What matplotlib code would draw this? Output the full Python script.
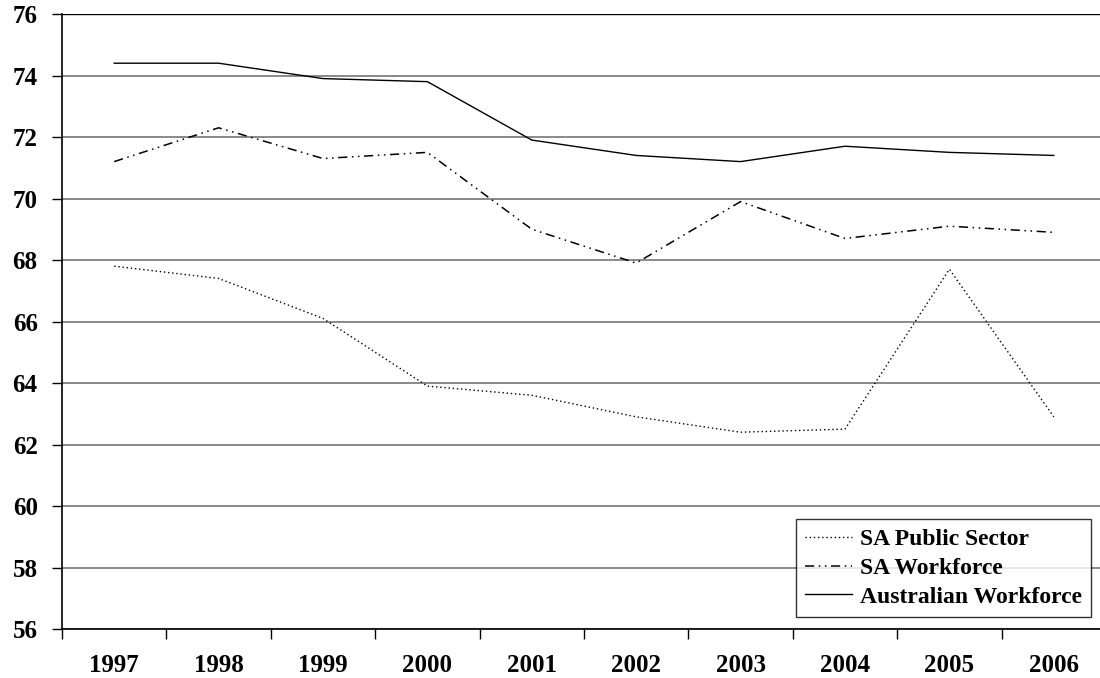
import matplotlib
matplotlib.use("Agg")
import matplotlib.pyplot as plt
import numpy as np

years = ["1997", "1998", "1999", "2000", "2001", "2002", "2003", "2004", "2005", "2006"]
sa_public = [67.8, 67.4, 66.1, 63.9, 63.6, 62.9, 62.4, 62.5, 67.7, 62.9]
sa_workforce = [71.2, 72.3, 71.3, 71.5, 69.0, 67.9, 69.9, 68.7, 69.1, 68.9]
aus_workforce = [74.4, 74.4, 73.9, 73.8, 71.9, 71.4, 71.2, 71.7, 71.5, 71.4]
y_ticks = list(range(56, 78, 2))

plt.rcParams["font.family"] = ["Liberation Serif", "DejaVu Serif"]
plt.rcParams["font.weight"] = "bold"

fig = plt.figure(figsize=(11, 6.78), dpi=100)
ax = fig.add_axes([62 / 1100, 49 / 678, 1044 / 1100, 615 / 678])

x = np.arange(len(years))
ax.plot(x, sa_public, color="black", lw=1, linestyle=(0, (1, 2)), label="SA Public Sector")
ax.plot(x, sa_workforce, color="black", lw=1.1, linestyle=(0, (6, 3, 1, 3, 1, 3)), label="SA Workforce")
ax.plot(x, aus_workforce, color="black", lw=1, linestyle="-", label="Australian Workforce")

ax.set_xlim(-0.5, len(years) - 0.5)
ax.set_ylim(56, 76)
ax.set_yticks(y_ticks)
ax.set_yticklabels([str(v) for v in y_ticks], fontsize=18, fontweight="bold")
ax.set_xticks(x)
ax.set_xticklabels(years, fontsize=18, fontweight="bold")
ax.set_xticks(np.arange(-0.5, len(years)), minor=True)
ax.tick_params(axis="x", which="major", length=0, pad=18)
ax.tick_params(axis="x", which="minor", length=7.5, width=1, direction="out")
ax.tick_params(axis="y", length=7.5, width=1, direction="out", pad=10)

ax.yaxis.grid(True, color="#808080", lw=1.3)
ax.set_axisbelow(True)
for side in ["top", "right"]:
    ax.spines[side].set_visible(False)
ax.axhline(76, color="black", lw=1)
ax.spines["left"].set_linewidth(1.2)
ax.spines["bottom"].set_linewidth(1.2)

leg = ax.legend(loc="lower right", bbox_to_anchor=(1091 / 1100, 61 / 678),
                bbox_transform=fig.transFigure, fontsize=17, frameon=True,
                fancybox=False, handlelength=2.0, handletextpad=0.3,
                borderpad=0.4, labelspacing=0.3, borderaxespad=0)
leg.get_frame().set_edgecolor("black")
leg.get_frame().set_linewidth(1)
for t in leg.get_texts():
    t.set_fontweight("bold")

fig.savefig("out.png", dpi=100)
